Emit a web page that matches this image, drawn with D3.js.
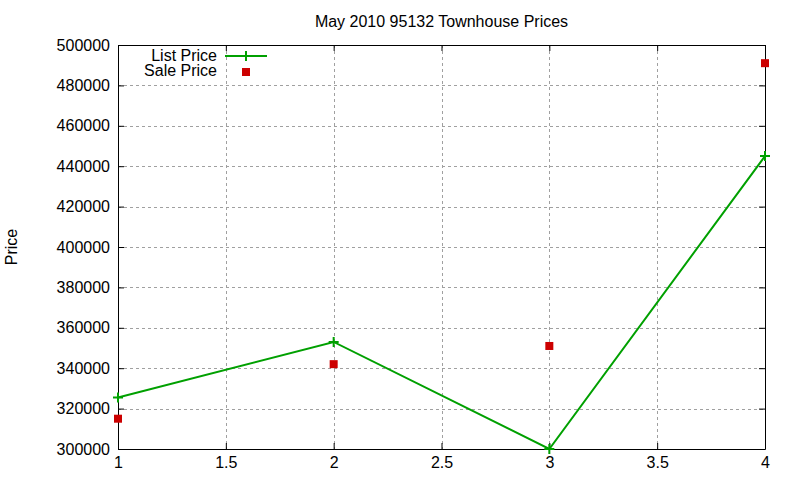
<!DOCTYPE html>
<html>
<head>
<meta charset="utf-8">
<script src="https://cdn.jsdelivr.net/npm/d3@7"></script>
<style>
  body { margin: 0; background: #fff; }
  text { font-family: "Liberation Sans", Arial, sans-serif; font-size: 16px; fill: #000; }
</style>
</head>
<body>
<div id="wrapper"></div>
<script>
// data
const xValues = [1, 2, 3, 4]
const listPrice = [325500, 353000, 300000, 445000]
const salePrice = [315000, 342000, 351000, 491000]
const xTicks = [1, 1.5, 2, 2.5, 3, 3.5, 4]
const yTicks = [300000, 320000, 340000, 360000, 380000, 400000, 420000, 440000, 460000, 480000, 500000]

const dimensions = {
  width: 800,
  height: 480,
  margin: { top: 45, right: 35, bottom: 31, left: 118 },
}
dimensions.boundedWidth = dimensions.width - dimensions.margin.left - dimensions.margin.right
dimensions.boundedHeight = dimensions.height - dimensions.margin.top - dimensions.margin.bottom

const svg = d3.select('#wrapper').append('svg')
  .attr('width', dimensions.width)
  .attr('height', dimensions.height)

const bounds = svg.append('g')
  .attr('transform', `translate(${dimensions.margin.left},${dimensions.margin.top})`)

const xScale = d3.scaleLinear().domain([1, 4]).range([0, dimensions.boundedWidth])
const yScale = d3.scaleLinear().domain([300000, 500000]).range([dimensions.boundedHeight, 0])

// grid
const grid = bounds.append('g')
  .attr('stroke', '#a0a0a0')
  .attr('stroke-width', 1)
  .attr('stroke-dasharray', '3,3')
grid.selectAll('.gx').data(xTicks.slice(1, -1)).join('line')
  .attr('x1', d => Math.round(xScale(d)) + 0.5).attr('x2', d => Math.round(xScale(d)) + 0.5)
  .attr('y1', 0).attr('y2', dimensions.boundedHeight)
grid.selectAll('.gy').data(yTicks.slice(1, -1)).join('line')
  .attr('y1', d => Math.round(yScale(d)) + 0.5).attr('y2', d => Math.round(yScale(d)) + 0.5)
  .attr('x1', 0).attr('x2', dimensions.boundedWidth)

// axes, gnuplot style: ticks inward and mirrored
const tickLen = 6
bounds.append('g')
  .attr('transform', `translate(0,${dimensions.boundedHeight})`)
  .call(d3.axisBottom(xScale).tickValues(xTicks).tickSizeInner(-tickLen).tickSizeOuter(0).tickPadding(8).tickFormat(d3.format('')))
bounds.append('g')
  .call(d3.axisTop(xScale).tickValues(xTicks).tickSizeInner(-tickLen).tickSizeOuter(0).tickFormat(''))
bounds.append('g')
  .call(d3.axisLeft(yScale).tickValues(yTicks).tickSizeInner(-tickLen).tickSizeOuter(0).tickPadding(8).tickFormat(d3.format('d')))
bounds.append('g')
  .attr('transform', `translate(${dimensions.boundedWidth},0)`)
  .call(d3.axisRight(yScale).tickValues(yTicks).tickSizeInner(-tickLen).tickSizeOuter(0).tickFormat(''))

bounds.selectAll('.domain').attr('stroke', '#000').attr('stroke-width', 1)
bounds.selectAll('.tick line').attr('stroke', '#000')
bounds.selectAll('.tick text')
  .style('font-family', '"Liberation Sans", Arial, sans-serif')
  .style('font-size', '16px')
  .attr('fill', '#000')

const green = '#00a000'
const red = '#cc0000'

// list price line
const line = d3.line()
  .x((d, i) => xScale(xValues[i]))
  .y(d => yScale(d))
bounds.append('path')
  .datum(listPrice)
  .attr('d', line)
  .attr('fill', 'none')
  .attr('stroke', green)
  .attr('stroke-width', 2)

const plusSize = 5
const plus = (cx, cy) => `M${cx - plusSize},${cy}H${cx + plusSize}M${cx},${cy - plusSize}V${cy + plusSize}`
bounds.selectAll('.plus').data(listPrice).join('path')
  .attr('d', (d, i) => plus(xScale(xValues[i]), yScale(d)))
  .attr('stroke', green)
  .attr('stroke-width', 2)

// sale price points
const sq = 8
bounds.selectAll('.sale').data(salePrice).join('rect')
  .attr('x', (d, i) => xScale(xValues[i]) - sq / 2)
  .attr('y', d => yScale(d) - sq / 2)
  .attr('width', sq)
  .attr('height', sq)
  .attr('fill', red)

// legend
const legend = svg.append('g')
legend.append('text').attr('x', 217).attr('y', 61).attr('text-anchor', 'end').text('List Price')
legend.append('line').attr('x1', 225).attr('x2', 267).attr('y1', 56).attr('y2', 56)
  .attr('stroke', green).attr('stroke-width', 2)
legend.append('path').attr('d', plus(246, 56)).attr('stroke', green).attr('stroke-width', 2)
legend.append('text').attr('x', 217).attr('y', 76).attr('text-anchor', 'end').text('Sale Price')
legend.append('rect').attr('x', 242).attr('y', 68).attr('width', sq).attr('height', sq).attr('fill', red)

// title and axis label
svg.append('text')
  .attr('x', dimensions.margin.left + dimensions.boundedWidth / 2)
  .attr('y', 27)
  .attr('text-anchor', 'middle')
  .text('May 2010 95132 Townhouse Prices')
svg.append('text')
  .attr('transform', `translate(17,${dimensions.margin.top + dimensions.boundedHeight / 2}) rotate(-90)`)
  .attr('text-anchor', 'middle')
  .text('Price')
</script>
</body>
</html>
